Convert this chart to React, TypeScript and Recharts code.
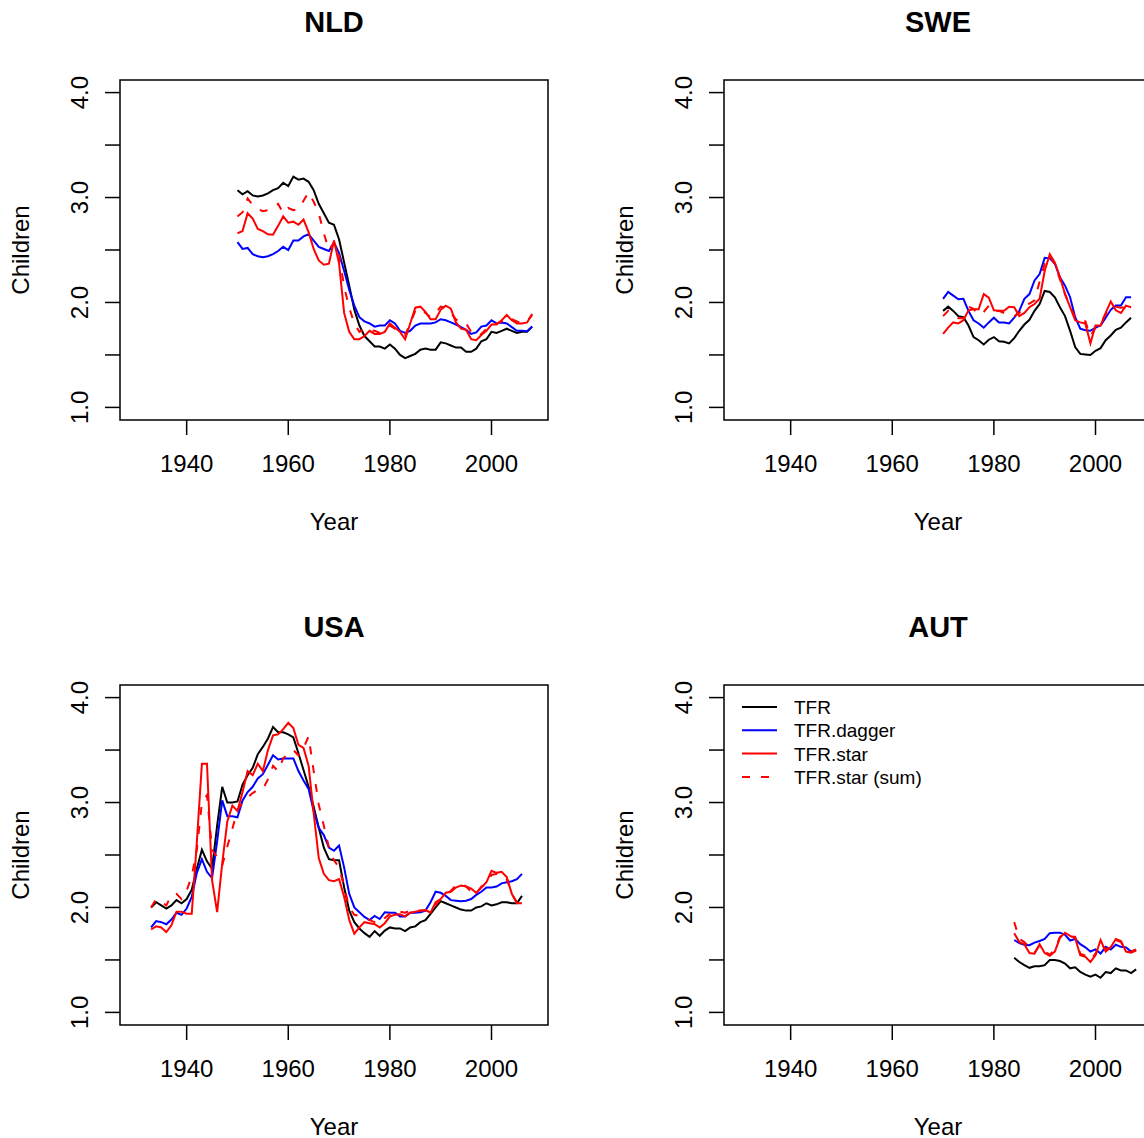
import React from 'react';
import { LineChart, Line, XAxis, YAxis, ReferenceArea, Legend } from 'recharts';

const FONT = '"Liberation Sans", Arial, Helvetica, sans-serif';

// ---- axes ----
const X_DOMAIN: [number, number] = [1926.88, 2011.12];
const X_TICKS = [1940, 1960, 1980, 2000];
const Y_DOMAIN: [number, number] = [0.88, 4.12];
const Y_TICKS = [1, 1.5, 2, 2.5, 3, 3.5, 4];

const SERIES_LABELS = ['TFR', 'TFR.dagger', 'TFR.star', 'TFR.star (sum)'];
const SERIES_COLORS = ['#000000', '#0000ff', '#ff0000', '#ff0000'];
const SERIES_DASH = [undefined, undefined, undefined, '8 11'];

// ---- NLD (1950-2008) ----
const nldStart = 1950;
const nldTfr = [3.07, 3.03, 3.06, 3.02, 3.01, 3.02, 3.04, 3.07, 3.09, 3.14, 3.11, 3.2, 3.17, 3.18, 3.15, 3.07, 2.94, 2.85, 2.76, 2.74, 2.6, 2.38, 2.16, 1.93, 1.78, 1.68, 1.63, 1.58, 1.58, 1.56, 1.6, 1.56, 1.5, 1.47, 1.49, 1.51, 1.55, 1.56, 1.55, 1.55, 1.62, 1.61, 1.59, 1.57, 1.57, 1.53, 1.53, 1.56, 1.63, 1.65, 1.72, 1.71, 1.73, 1.75, 1.73, 1.71, 1.72, 1.72, 1.77];
const nldDagger = [2.575, 2.51, 2.52, 2.46, 2.44, 2.43, 2.44, 2.46, 2.49, 2.53, 2.5, 2.59, 2.59, 2.63, 2.65, 2.59, 2.53, 2.51, 2.49, 2.57, 2.47, 2.3, 2.12, 1.97, 1.86, 1.82, 1.8, 1.77, 1.78, 1.78, 1.83, 1.8, 1.73, 1.71, 1.73, 1.78, 1.8, 1.8, 1.8, 1.81, 1.84, 1.83, 1.81, 1.79, 1.765, 1.74, 1.7, 1.715, 1.77, 1.78, 1.83, 1.8, 1.81, 1.8, 1.765, 1.73, 1.73, 1.725, 1.77];
const nldStar = [2.66, 2.68, 2.85, 2.8, 2.7, 2.68, 2.65, 2.645, 2.73, 2.82, 2.76, 2.77, 2.74, 2.79, 2.67, 2.51, 2.4, 2.36, 2.37, 2.59, 2.37, 1.9, 1.72, 1.65, 1.65, 1.68, 1.73, 1.7, 1.7, 1.72, 1.8, 1.76, 1.72, 1.65, 1.8, 1.95, 1.96, 1.91, 1.84, 1.84, 1.93, 1.97, 1.94, 1.81, 1.75, 1.74, 1.65, 1.64, 1.69, 1.73, 1.79, 1.79, 1.83, 1.88, 1.83, 1.8, 1.8, 1.81, 1.89];
const nldSum = [2.82, 2.86, 2.99, 2.93, 2.89, 2.87, 2.88, 2.91, 2.94, 2.85, 2.9, 2.88, 2.89, 2.97, 3.05, 2.96, 2.85, 2.66, 2.5, 2.57, 2.45, 2.15, 1.95, 1.8, 1.72, 1.75, 1.73, 1.73, 1.71, 1.74, 1.78, 1.75, 1.7, 1.69, 1.8, 1.92, 1.95, 1.9, 1.86, 1.9, 1.96, 1.95, 1.9, 1.84, 1.8, 1.8, 1.72, 1.68, 1.7, 1.75, 1.78, 1.8, 1.82, 1.86, 1.84, 1.82, 1.8, 1.82, 1.88];

// ---- SWE (1970-2007) ----
const sweStart = 1970;
const sweTfr = [1.92, 1.96, 1.92, 1.87, 1.86, 1.78, 1.67, 1.64, 1.6, 1.645, 1.67, 1.63, 1.625, 1.61, 1.66, 1.73, 1.79, 1.835, 1.92, 1.985, 2.11, 2.1, 2.05, 1.955, 1.87, 1.73, 1.575, 1.51, 1.505, 1.5, 1.54, 1.565, 1.64, 1.685, 1.74, 1.76, 1.81, 1.855];
const sweDagger = [2.035, 2.1, 2.065, 2.03, 2.035, 1.92, 1.83, 1.8, 1.76, 1.81, 1.855, 1.81, 1.81, 1.8, 1.855, 1.92, 2.035, 2.08, 2.21, 2.27, 2.425, 2.42, 2.37, 2.24, 2.16, 2.05, 1.86, 1.75, 1.735, 1.73, 1.76, 1.78, 1.855, 1.93, 1.97, 1.97, 2.05, 2.05];
const sweStar = [1.7, 1.76, 1.81, 1.8, 1.83, 1.925, 1.935, 1.935, 2.08, 2.045, 1.925, 1.92, 1.92, 1.96, 1.955, 1.87, 1.9, 1.955, 1.985, 2.035, 2.3, 2.46, 2.38, 2.24, 2.08, 1.955, 1.83, 1.81, 1.8, 1.61, 1.78, 1.78, 1.9, 2.01, 1.925, 1.9, 1.97, 1.955];
const sweSum = [1.87, 1.92, 1.88, 1.85, 1.85, 1.96, 1.94, 1.88, 1.91, 1.97, 1.91, 1.92, 1.9, 1.87, 1.87, 1.9, 1.97, 1.99, 2.02, 2.2, 2.37, 2.45, 2.36, 2.22, 2.08, 1.96, 1.86, 1.82, 1.82, 1.68, 1.76, 1.8, 1.89, 1.95, 1.96, 1.95, 1.96, 1.95];

// ---- USA (1933-2006) ----
const usaStart = 1933;
const usaTfr = [2.0, 2.05, 2.02, 1.99, 2.02, 2.07, 2.04, 2.08, 2.17, 2.37, 2.55, 2.44, 2.37, 2.78, 3.15, 3.0, 3.0, 3.01, 3.17, 3.26, 3.33, 3.46, 3.53, 3.61, 3.72, 3.67, 3.67, 3.65, 3.62, 3.47, 3.31, 3.15, 2.96, 2.76, 2.57, 2.46, 2.45, 2.45, 2.19, 1.97, 1.86, 1.8, 1.755, 1.72, 1.775, 1.73, 1.78, 1.81, 1.8, 1.8, 1.775, 1.81, 1.82, 1.86, 1.88, 1.94, 2.0, 2.06, 2.04, 2.02, 2.0, 1.98, 1.97, 1.97, 2.0, 2.01, 2.04, 2.02, 2.03, 2.05, 2.05, 2.04, 2.04, 2.11];
const usaDagger = [1.81, 1.87, 1.86, 1.84, 1.885, 1.95, 1.93, 1.99, 2.1, 2.33, 2.46, 2.34, 2.28, 2.63, 3.02, 2.87, 2.87, 2.86, 3.02, 3.1, 3.15, 3.23, 3.27, 3.36, 3.45, 3.41, 3.42, 3.42, 3.42, 3.3, 3.21, 3.13, 2.92, 2.76, 2.69, 2.57, 2.54, 2.59, 2.38, 2.13, 2.0, 1.955, 1.91, 1.88, 1.92, 1.89, 1.955, 1.95, 1.95, 1.915, 1.915, 1.95, 1.95, 1.955, 1.97, 2.05, 2.15, 2.14, 2.11, 2.07, 2.065, 2.06, 2.065, 2.08, 2.12, 2.15, 2.19, 2.19, 2.2, 2.23, 2.24, 2.25, 2.27, 2.32];
const usaStar = [1.79, 1.82, 1.81, 1.765, 1.83, 1.96, 1.96, 1.94, 1.94, 2.62, 3.37, 3.37, 2.26, 1.955, 2.42, 2.82, 2.97, 2.92, 3.1, 3.3, 3.26, 3.37, 3.3, 3.5, 3.64, 3.65, 3.7, 3.76, 3.71, 3.55, 3.52, 3.35, 2.9, 2.47, 2.32, 2.26, 2.25, 2.27, 2.1, 1.88, 1.75, 1.81, 1.86, 1.85, 1.84, 1.81, 1.85, 1.915, 1.93, 1.935, 1.915, 1.95, 1.96, 1.97, 1.975, 1.95, 2.05, 2.08, 2.14, 2.15, 2.19, 2.21, 2.2, 2.18, 2.14, 2.19, 2.24, 2.35, 2.33, 2.34, 2.29, 2.13, 2.04, 2.04];
const usaSum = [2.0, 2.08, 2.05, 2.02, 2.12, 2.13, 2.08, 2.16, 2.3, 2.55, 3.0, 3.07, 2.55, 2.48, 2.4, 2.58, 2.75, 2.93, 3.0, 3.05, 3.09, 3.12, 3.13, 3.22, 3.35, 3.3, 3.42, 3.47, 3.5, 3.45, 3.52, 3.63, 3.3, 2.98, 2.78, 2.57, 2.45, 2.38, 2.2, 2.0, 1.93, 1.92, 1.9, 1.88, 1.86, 1.85, 1.9, 1.94, 1.97, 1.96, 1.95, 1.97, 1.98, 1.97, 1.97, 1.97, 2.02, 2.08, 2.12, 2.16, 2.21, 2.23, 2.2, 2.15, 2.13, 2.2, 2.22, 2.31, 2.32, 2.32, 2.27, 2.13, 2.05, 2.05];

// ---- AUT (1984-2008) ----
const autStart = 1984;
const autTfr = [1.52, 1.48, 1.45, 1.425, 1.44, 1.44, 1.45, 1.5, 1.5, 1.49, 1.465, 1.42, 1.43, 1.385, 1.36, 1.34, 1.36, 1.33, 1.385, 1.375, 1.42, 1.4, 1.4, 1.375, 1.41];
const autDagger = [1.69, 1.66, 1.645, 1.64, 1.665, 1.68, 1.7, 1.755, 1.76, 1.76, 1.74, 1.685, 1.7, 1.65, 1.62, 1.58, 1.6, 1.56, 1.625, 1.6, 1.645, 1.625, 1.62, 1.58, 1.595];
const autStar = [1.755, 1.67, 1.65, 1.565, 1.56, 1.65, 1.565, 1.54, 1.58, 1.71, 1.76, 1.73, 1.71, 1.545, 1.53, 1.48, 1.545, 1.69, 1.58, 1.62, 1.7, 1.68, 1.58, 1.57, 1.59];
const autSum = [1.86, 1.7, 1.67, 1.62, 1.57, 1.64, 1.58, 1.55, 1.6, 1.72, 1.75, 1.72, 1.72, 1.56, 1.54, 1.5, 1.56, 1.66, 1.6, 1.63, 1.69, 1.67, 1.6, 1.58, 1.6];

const PANEL_W = 604;
const PANEL_H = 605;

const YTick = (props: any) => {
  const { x, y, payload } = props;
  const v = payload.value as number;
  if (Math.abs(v - Math.round(v)) > 1e-6) return <g />;
  return (
    <text x={x} y={y} transform={`rotate(-90, ${x}, ${y})`} textAnchor="middle" fontSize={24} fontFamily={FONT} fill="#000">
      {v.toFixed(1)}
    </text>
  );
};

const XTick = (props: any) => {
  const { x, y, payload } = props;
  return (
    <text x={x} y={y + 17} textAnchor="middle" fontSize={24} fontFamily={FONT} fill="#000">
      {payload.value}
    </text>
  );
};

const LegendBox = () => (
  <svg width={260} height={100} style={{ display: 'block' }}>
    {SERIES_LABELS.map((lab, i) => {
      const y = 14 + i * 23.3;
      return (
        <g key={lab}>
          <line x1={8} x2={43} y1={y} y2={y} stroke={SERIES_COLORS[i]} strokeWidth={2} strokeDasharray={SERIES_DASH[i]} />
          <text x={60} y={y + 7} fontSize={19} fontFamily={FONT} fill="#000">{lab}</text>
        </g>
      );
    })}
  </svg>
);

type PanelProps = {
  title: string;
  start: number;
  tfr: number[];
  dagger: number[];
  star: number[];
  sum: number[];
  left: number;
  top: number;
  legend?: boolean;
};

function Panel({ title, start, tfr, dagger, star, sum, left, top, legend }: PanelProps) {
  const data = tfr.map((v, i) => ({ year: start + i, tfr: v, dagger: dagger[i], star: star[i], sum: sum[i] }));
  const keys = ['tfr', 'dagger', 'star', 'sum'];
  return (
    <div style={{ position: 'absolute', left, top, width: PANEL_W, height: PANEL_H }}>
      <LineChart width={PANEL_W} height={PANEL_H} data={data} margin={{ top: 80, right: 56, bottom: 0, left: 0 }}>
        <XAxis
          type="number"
          dataKey="year"
          domain={X_DOMAIN}
          ticks={X_TICKS}
          interval={0}
          allowDataOverflow
          axisLine={false}
          tickLine={{ stroke: '#000', strokeWidth: 1.5 }}
          tickSize={15}
          tickMargin={20}
          height={185}
          tick={XTick}
        />
        <YAxis
          type="number"
          domain={Y_DOMAIN}
          ticks={Y_TICKS}
          interval={0}
          allowDataOverflow
          axisLine={false}
          tickLine={{ stroke: '#000', strokeWidth: 1.5 }}
          tickSize={15}
          tickMargin={17}
          width={120}
          tick={YTick}
        />
        <ReferenceArea
          x1={X_DOMAIN[0]}
          x2={X_DOMAIN[1]}
          y1={Y_DOMAIN[0]}
          y2={Y_DOMAIN[1]}
          fill="none"
          fillOpacity={0}
          stroke="#000"
          strokeWidth={1.5}
          ifOverflow="visible"
        />
        {keys.map((k, i) => (
          <Line
            key={k}
            type="linear"
            dataKey={k}
            name={SERIES_LABELS[i]}
            stroke={SERIES_COLORS[i]}
            strokeWidth={2}
            strokeDasharray={SERIES_DASH[i]}
            dot={false}
            activeDot={false}
            isAnimationActive={false}
          />
        ))}
        {legend ? (
          <Legend
            layout="vertical"
            align="center"
            verticalAlign="middle"
            wrapperStyle={{ position: 'absolute', left: 130, top: 88, width: 260, height: 100 }}
            content={() => <LegendBox />}
          />
        ) : null}
      </LineChart>
      <svg width={PANEL_W} height={PANEL_H} style={{ position: 'absolute', left: 0, top: 0, pointerEvents: 'none' }}>
        <text x={334} y={32} textAnchor="middle" fontSize={29} fontWeight="bold" fontFamily={FONT} fill="#000">{title}</text>
        <text x={334} y={530} textAnchor="middle" fontSize={24} fontFamily={FONT} fill="#000">Year</text>
        <text x={29} y={250} transform="rotate(-90, 29, 250)" textAnchor="middle" fontSize={24} fontFamily={FONT} fill="#000">Children</text>
      </svg>
    </div>
  );
}

export default function App() {
  return (
    <div style={{ position: 'absolute', left: 0, top: 0, width: 1144, height: 1138, overflow: 'hidden', background: '#fff' }}>
      <Panel title="NLD" start={nldStart} tfr={nldTfr} dagger={nldDagger} star={nldStar} sum={nldSum} left={0} top={0} />
      <Panel title="SWE" start={sweStart} tfr={sweTfr} dagger={sweDagger} star={sweStar} sum={sweSum} left={PANEL_W} top={0} />
      <Panel title="USA" start={usaStart} tfr={usaTfr} dagger={usaDagger} star={usaStar} sum={usaSum} left={0} top={PANEL_H} />
      <Panel title="AUT" start={autStart} tfr={autTfr} dagger={autDagger} star={autStar} sum={autSum} left={PANEL_W} top={PANEL_H} legend />
    </div>
  );
}
